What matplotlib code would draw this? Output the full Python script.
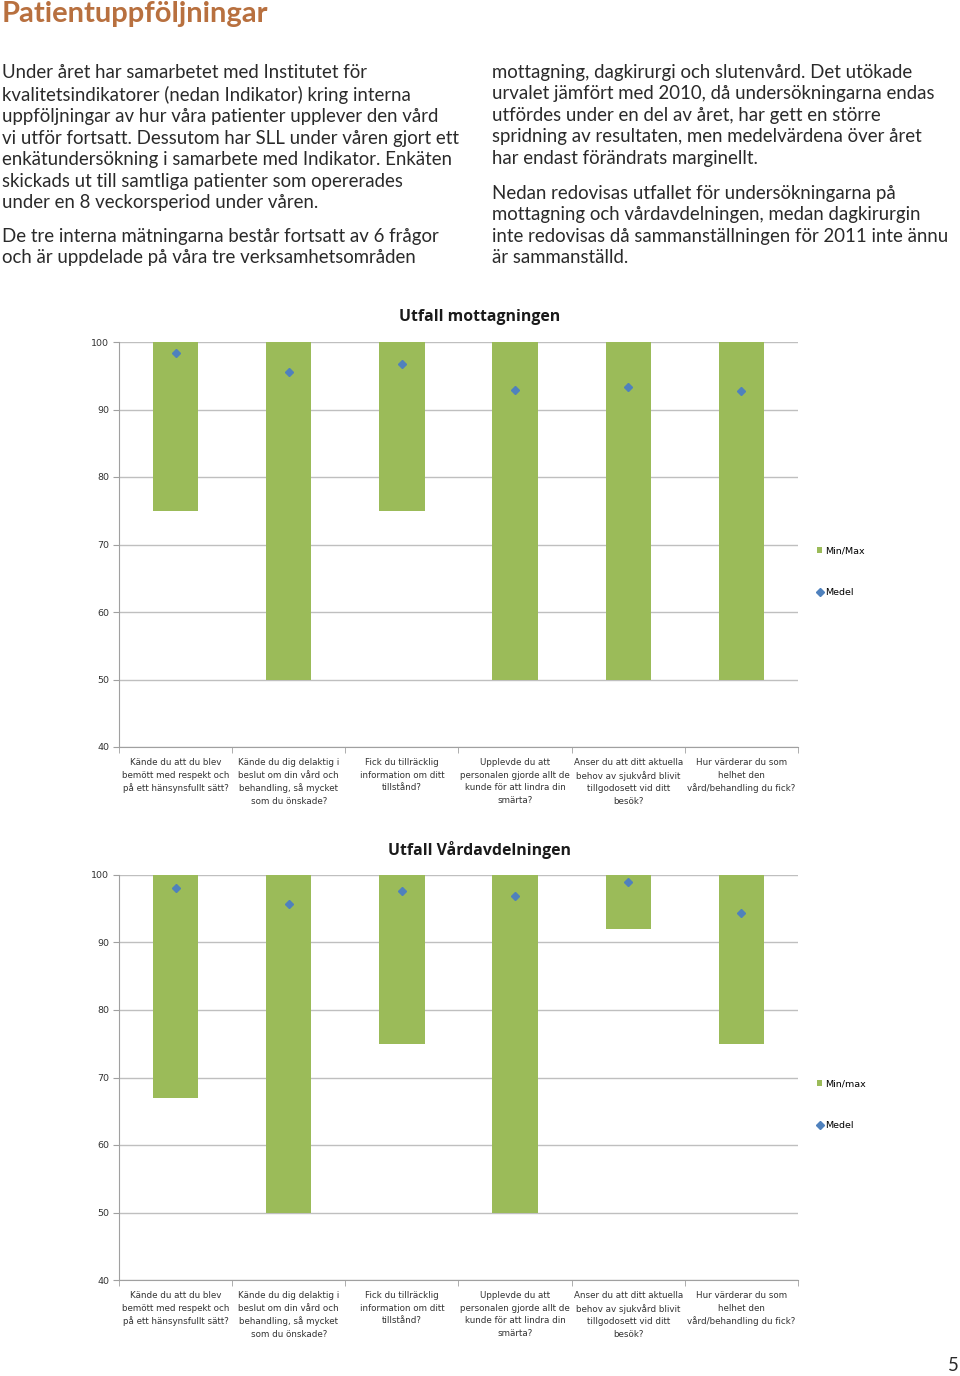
import numpy as np
import matplotlib.pyplot as plt

categories = [
    "Kände du att du blev\nbemött med respekt och\npå ett hänsynsfullt sätt?",
    "Kände du dig delaktig i\nbeslut om din vård och\nbehandling, så mycket\nsom du önskade?",
    "Fick du tillräcklig\ninformation om ditt\ntillstånd?",
    "Upplevde du att\npersonalen gjorde allt de\nkunde för att lindra din\nsmärta?",
    "Anser du att ditt aktuella\nbehov av sjukvård blivit\ntillgodosett vid ditt\nbesök?",
    "Hur värderar du som\nhelhet den\nvård/behandling du fick?",
]

# Utfall mottagningen
mott_min = [75, 50, 75, 50, 50, 50]
mott_max = [100, 100, 100, 100, 100, 100]
mott_medel = [98.4, 95.6, 96.8, 92.9, 93.3, 92.8]

# Utfall Vårdavdelningen
vard_min = [67, 50, 75, 50, 92, 75]
vard_max = [100, 100, 100, 100, 100, 100]
vard_medel = [98.1, 95.7, 97.6, 96.9, 99.0, 94.4]

yticks = [40, 50, 60, 70, 80, 90, 100]

para_left = (
    "Under året har samarbetet med Institutet för\n"
    "kvalitetsindikatorer (nedan Indikator) kring interna\n"
    "uppföljningar av hur våra patienter upplever den vård\n"
    "vi utför fortsatt. Dessutom har SLL under våren gjort ett\n"
    "enkätundersökning i samarbete med Indikator. Enkäten\n"
    "skickads ut till samtliga patienter som opererades\n"
    "under en 8 veckorsperiod under våren."
)
para_left2 = (
    "De tre interna mätningarna består fortsatt av 6 frågor\n"
    "och är uppdelade på våra tre verksamhetsområden"
)
para_right = (
    "mottagning, dagkirurgi och slutenvård. Det utökade\n"
    "urvalet jämfört med 2010, då undersökningarna endas\n"
    "utfördes under en del av året, har gett en större\n"
    "spridning av resultaten, men medelvärdena över året\n"
    "har endast förändrats marginellt."
)
para_right2 = (
    "Nedan redovisas utfallet för undersökningarna på\n"
    "mottagning och vårdavdelningen, medan dagkirurgin\n"
    "inte redovisas då sammanställningen för 2011 inte ännu\n"
    "är sammanställd."
)

GREEN = "#9BBB59"
BLUE = "#4F81BD"
GRID = "#BFBFBF"
W, H = 960, 1376

fig = plt.figure(figsize=(9.6, 13.76), dpi=100)


def fx(px):
    return px / W


def fy(py):
    return 1 - py / H


fig.text(fx(2), fy(1), "Patientuppföljningar", fontsize=21, color="#B8703F",
         fontweight="bold", family="Lato", va="top", ha="left")

body = dict(fontsize=13.4, color="#2a2a2a", family="Lato", fontweight="normal",
            va="top", ha="left", linespacing=1.32)
fig.text(fx(2), fy(64), para_left, **body)
fig.text(fx(2), fy(228), para_left2, **body)
fig.text(fx(492), fy(64), para_right, **body)
fig.text(fx(492), fy(185), para_right2, **body)

fig.text(fx(953), fy(1357), "5", fontsize=13.4, color="#2a2a2a", family="Lato",
         va="top", ha="center")


def draw_chart(top_px, title, mins, maxs, medel, minmax_label):
    ax = fig.add_axes([fx(119), fy(top_px + 405), fx(679), 405 / H])
    x = np.arange(len(categories))
    heights = [hi - lo for lo, hi in zip(mins, maxs)]
    bars = ax.bar(x, heights, bottom=mins, width=0.4, color=GREEN, zorder=2)
    dots, = ax.plot(x, medel, linestyle="none", marker="D", markersize=4.5, color=BLUE,
                    zorder=3)
    ax.set_xlim(-0.5, len(categories) - 0.5)
    ax.set_ylim(40, 100)
    ax.set_yticks(yticks)
    ax.set_yticklabels([str(t) for t in yticks], fontsize=6.8, family="DejaVu Sans",
                       color="#333333")
    ax.yaxis.grid(True, color=GRID, linewidth=1, zorder=0)
    ax.set_axisbelow(True)
    ax.set_xticks(x)
    ax.set_xticklabels(categories, fontsize=6.3, family="DejaVu Sans", color="#333333",
                       linespacing=1.5, va="top")
    ax.set_xticks(np.arange(-0.5, len(categories)), minor=True)
    ax.tick_params(axis="x", which="major", length=0, pad=8)
    ax.tick_params(axis="x", which="minor", length=4, color="#A0A0A0", direction="out")
    ax.tick_params(axis="y", length=4, color="#A0A0A0", direction="out", pad=3)
    for side in ("top", "right"):
        ax.spines[side].set_visible(False)
    for side in ("left", "bottom"):
        ax.spines[side].set_color("#A0A0A0")
    fig.text(0.5, fy(top_px - 25), title, fontsize=11.4, fontweight="bold",
             family="Open Sans", color="#1a1a1a", ha="center", va="center")
    ax.legend([bars, dots], [minmax_label, "Medel"], loc="center left",
              bbox_to_anchor=(1.015, 0.433), frameon=False,
              fontsize=6.8, labelspacing=3.4, handlelength=0.6, handletextpad=0.3,
              handleheight=0.6, markerscale=0.8)
    return ax


draw_chart(342, "Utfall mottagningen", mott_min, mott_max, mott_medel, "Min/Max")
draw_chart(875, "Utfall Vårdavdelningen", vard_min, vard_max, vard_medel, "Min/max")

fig.savefig("out.png", dpi=100, facecolor="white")
